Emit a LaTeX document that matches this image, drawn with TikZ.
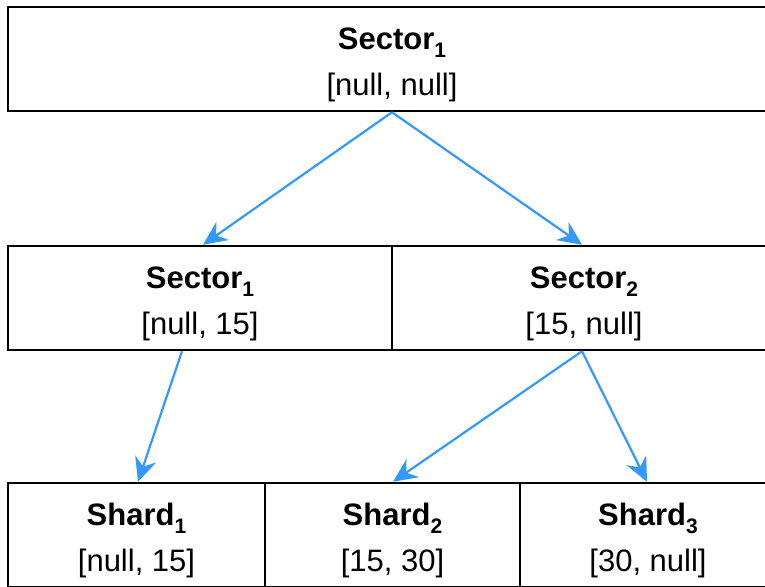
\documentclass[tikz,border=0pt]{standalone}
\usepackage{fontspec}
\setmainfont{Liberation Sans}
\usetikzlibrary{arrows.meta}
\definecolor{linkblue}{RGB}{51,153,255}
\tikzset{
  cell/.style={draw=black, line width=2.5pt, minimum height=104pt, inner sep=0pt,
    align=center, font=\fontsize{31}{46}\selectfont,
    text height=74pt, text depth=2pt},
  link/.style={draw=linkblue, line width=2.2pt,
    -{Stealth[length=24pt, width=22pt, inset=8pt]}}
}
% bold heading with a dropped index
\newcommand{\cellhead}[2]{\textbf{#1\raisebox{-8pt}{\fontsize{21}{21}\selectfont #2}}}
\begin{document}
\begin{tikzpicture}[x=1pt, y=-1pt]
  \useasboundingbox (0,0) rectangle (765,586);
  \clip (0,0) rectangle (765,586);
  \fill[white] (0,0) rectangle (765,586);

  % root
  \node[cell, minimum width=768pt] (top) at (392,59)
    {\cellhead{Sector}{1}\\{[}null, null{]}};

  % second level
  \node[cell, minimum width=384pt] (m1) at (200,298)
    {\cellhead{Sector}{1}\\{[}null, 15{]}};
  \node[cell, minimum width=384pt] (m2) at (584,298)
    {\cellhead{Sector}{2}\\{[}15, null{]}};

  % shards
  \node[cell, minimum width=257pt] (b1) at (136.5,535)
    {\cellhead{Shard}{1}\\{[}null, 15{]}};
  \node[cell, minimum width=255pt] (b2) at (392.5,535)
    {\cellhead{Shard}{2}\\{[}15, 30{]}};
  \node[cell, minimum width=256pt] (b3) at (648,535)
    {\cellhead{Shard}{3}\\{[}30, null{]}};

  % connectors
  \draw[link] (top.south) -- ([xshift=3pt]m1.north);
  \draw[link] (top.south) -- ([xshift=-2pt]m2.north);
  \draw[link] ([xshift=-18pt]m1.south) -- ([xshift=1.5pt]b1.north);
  \draw[link] ([xshift=-2pt]m2.south) -- ([xshift=0.5pt]b2.north);
  \draw[link] ([xshift=-2pt]m2.south) -- ([xshift=-1pt]b3.north);
\end{tikzpicture}
\end{document}
